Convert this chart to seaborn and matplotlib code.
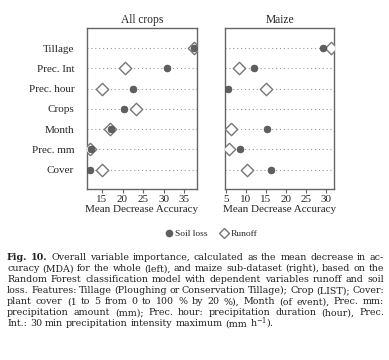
import numpy as np
import pandas as pd
import seaborn as sns
import matplotlib.pyplot as plt
from matplotlib.lines import Line2D

# Values (mean decrease accuracy)
features = ["Tillage", "Prec. Int", "Prec. hour", "Crops", "Month", "Prec. mm", "Cover"]
all_soil = [37.3, 30.9, 22.6, 20.4, 17.2, 12.3, 12.0]
all_runoff = [37.4, 20.6, 15.1, 23.3, 17.0, 12.0, 15.1]
maize_soil = [29.3, 12.0, 5.4, np.nan, 15.3, 8.5, 16.2]
maize_runoff = [31.2, 8.3, 14.9, np.nan, 6.2, 5.8, 10.3]

all_ticks = [15, 20, 25, 30, 35]
maize_ticks = [5, 10, 15, 20, 25, 30]

caption_lines = [
    "Overall variable importance, calculated as the mean decrease in ac-",
    "curacy (MDA) for the whole (left), and maize sub-dataset (right), based on the",
    "Random Forest classification model with dependent variables runoff and soil",
    "loss. Features: Tillage (Ploughing or Conservation Tillage); Crop (LIST); Cover:",
    "plant cover (1 to 5 from 0 to 100 % by 20 %), Month (of event), Prec. mm:",
    "precipitation amount (mm); Prec. hour: precipitation duration (hour), Prec.",
    "Int.: 30 min precipitation intensity maximum (mm h$^{-1}$).",
]

sns.set_theme(style="white")
plt.rcParams["font.family"] = ["Liberation Serif", "DejaVu Serif"]
plt.rcParams["mathtext.fontset"] = "dejavuserif"

soil_col = "#5f5f5f"
run_col = "#777777"
frame_col = "#666666"

fig = plt.figure(figsize=(3.89, 3.6), dpi=100)
ax1 = fig.add_axes([0.2229, 0.474, 0.2843, 0.447])
ax2 = fig.add_axes([0.5784, 0.474, 0.281, 0.447])

panels = [
    (ax1, "All crops", all_soil, all_runoff, (11.27, 38.2), all_ticks),
    (ax2, "Maize", maize_soil, maize_runoff, (4.75, 32.1), maize_ticks),
]

for ax, title, soil, runoff, xlim, ticks in panels:
    df = pd.DataFrame({"feature": features, "Soil loss": soil, "Runoff": runoff})
    sns.stripplot(data=df, x="Runoff", y="feature", order=features, jitter=False,
                  marker="D", color="white", edgecolor=run_col, linewidth=1.0,
                  size=6.3, ax=ax, zorder=3)
    sns.stripplot(data=df, x="Soil loss", y="feature", order=features, jitter=False,
                  marker="o", color=soil_col, edgecolor="#4a4a4a", linewidth=0.4,
                  size=5, ax=ax, zorder=4)
    ax.set_xlim(*xlim)
    ax.set_ylim(6.98, -0.98)
    ax.set_xticks(ticks)
    ax.set_title(title, fontsize=8.3, pad=4)
    ax.set_xlabel("Mean Decrease Accuracy", fontsize=8, labelpad=1)
    ax.set_ylabel("")
    ax.set_axisbelow(True)
    ax.grid(axis="y", linestyle=(0, (1, 2.5)), color="#9a9a9a", linewidth=0.8)
    ax.grid(axis="x", visible=False)
    for sp in ax.spines.values():
        sp.set_visible(True)
        sp.set_color(frame_col)
        sp.set_linewidth(1.0)
    ax.tick_params(axis="x", bottom=True, direction="out", length=3, width=0.8,
                   color=frame_col, labelsize=8, pad=1)
    ax.tick_params(axis="y", left=False, labelsize=8, pad=3)

ax2.set_yticklabels([])

handles = [
    Line2D([], [], marker="o", ls="", color=soil_col, ms=4.5, label="Soil loss"),
    Line2D([], [], marker="D", ls="", mfc="white", mec=run_col, mew=1.0, ms=5.5,
           label="Runoff"),
]
fig.legend(handles=handles, loc="center", bbox_to_anchor=(0.542, 0.35), ncol=2,
           frameon=False, fontsize=6.8, handletextpad=0.2, columnspacing=1.2,
           handlelength=1.0)

# caption, justified word by word
renderer = fig.canvas.get_renderer()
x_left, x_right = 7 / 389, 384 / 389
cap_size = 6.8
cap_font = "DejaVu Serif"


def text_width(s, **kw):
    t = fig.text(0, 0, s, fontsize=cap_size, family=cap_font, **kw)
    w = t.get_window_extent(renderer).width / fig.bbox.width
    t.remove()
    return w


space = text_width("a b") - text_width("ab")


def put_line(words, y, justify):
    widths = [text_width(w, fontweight=wt) for w, wt in words]
    if justify and len(words) > 1:
        gap = (x_right - x_left - sum(widths)) / (len(words) - 1)
    else:
        gap = space
    x = x_left
    for (w, wt), wd in zip(words, widths):
        fig.text(x, y, w, fontsize=cap_size, family=cap_font, va="center",
                 ha="left", fontweight=wt, color="#222222")
        x += wd + gap


for i, line in enumerate(caption_lines):
    words = [(w, "normal") for w in line.split(" ")]
    if i == 0:
        words = [("Fig.", "bold"), ("10.", "bold")] + words
    y = 1 - (257.7 + 11 * i) / 360
    put_line(words, y, justify=(i < len(caption_lines) - 1))

fig.savefig("out.png", dpi=100)
